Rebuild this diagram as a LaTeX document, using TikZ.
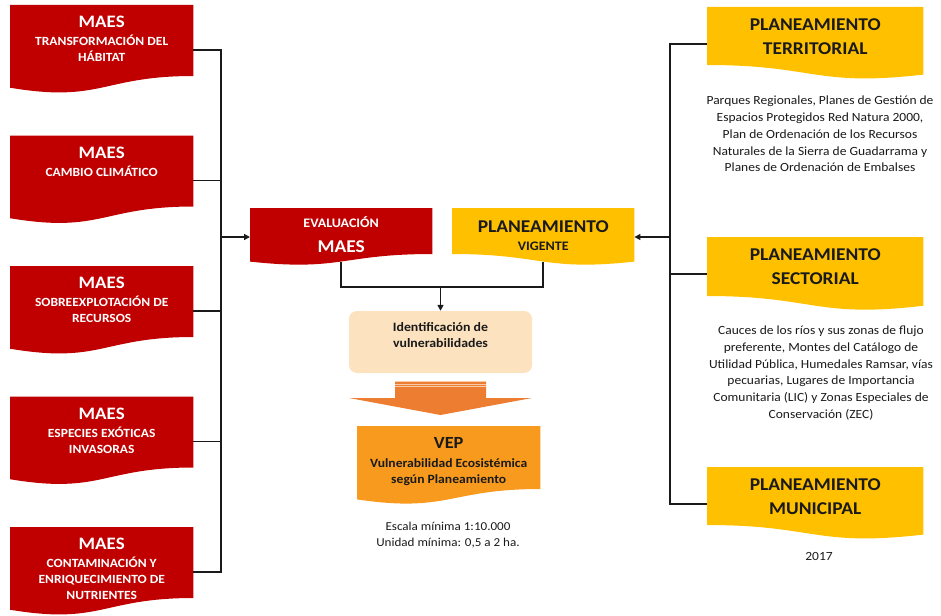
\documentclass[tikz,border=0pt]{standalone}
\usepackage{fontspec}
\setmainfont{Carlito}[FakeStretch=1.08]
\usepackage{xcolor}
\definecolor{cRed}{HTML}{C00000}
\definecolor{cYellow}{HTML}{FFC000}
\definecolor{cOrange}{HTML}{F79A1E}
\definecolor{cArrow}{HTML}{ED7D31}
\definecolor{cPeach}{HTML}{FCE2BE}
\definecolor{cStripe}{HTML}{F8CBAD}
\definecolor{cInk}{HTML}{1A1A1A}
\usepackage{tikz}
\usetikzlibrary{positioning,arrows.meta,calc,backgrounds}
% document shape: #1 node, #2 colour, #3 height of the straight part
\newcommand{\docfill}[3]{%
  \fill[#2] (#1.north west) -- (#1.north east) -- ([yshift=-#3]#1.north east)
    .. controls ([yshift=-#3]#1.north) and ([yshift={-1.381*#3}]#1.north)
    .. ([yshift={-1.165*#3}]#1.north west) -- cycle;}
% same shape, mirrored
\newcommand{\docfillr}[3]{%
  \fill[#2] (#1.north west) -- (#1.north east) -- ([yshift={-1.165*#3}]#1.north east)
    .. controls ([yshift={-1.381*#3}]#1.north) and ([yshift=-#3]#1.north)
    .. ([yshift=-#3]#1.north west) -- cycle;}
\newcommand{\maestitle}{{\fontsize{17.5}{18}\selectfont MAES}\\[2pt]}
\tikzset{
  box-maes/.style={anchor=north west,text width=183pt,inner xsep=0pt,
    inner ysep=11pt,align=flush center,text=white,
    font=\bfseries\fontsize{12.5}{16}\selectfont},
  box-plan/.style={anchor=north west,text width=216pt,inner xsep=0pt,
    inner ysep=11pt,align=flush center,text=cInk,
    font=\bfseries\fontsize{18}{24}\selectfont},
  box-mid/.style={anchor=north west,text width=182pt,inner xsep=0pt,
    inner ysep=8pt,align=flush center,font=\bfseries\fontsize{13}{14}\selectfont},
  box-ident/.style={fill=cPeach,rounded corners=8pt,minimum width=183pt,
    minimum height=62pt},
  label-ident/.style={yshift=7pt,align=flush center,text=cInk,
    font=\bfseries\fontsize{12.8}{16}\selectfont},
  note/.style={align=flush center,text=cInk,font=\fontsize{12.5}{16.8}\selectfont},
  link/.style={line width=1.6pt,draw=cInk},
  arrow/.style={link,-{Triangle[length=6pt,width=6pt]}},
}
\begin{document}
\begin{tikzpicture}[x=1pt,y=-1pt]
  \useasboundingbox (0,0) rectangle (941,615);
  % left column
  \foreach \txt [count=\i] in {{TRANSFORMACIÓN DEL\\HÁBITAT},{CAMBIO CLIMÁTICO},
      {SOBREEXPLOTACIÓN DE\\RECURSOS},{ESPECIES EXÓTICAS\\INVASORAS},
      {CONTAMINACIÓN Y\\ENRIQUECIMIENTO DE\\NUTRIENTES}}
    \node[box-maes] (m\i) at (10,{5+130.5*(\i-1)}) {\maestitle\txt};
  % centre
  \node[box-mid,text=white] (eval) at (250,208)
    {EVALUACIÓN\\[11pt]{\fontsize{18}{19}\selectfont MAES}};
  \node[box-mid,text=cInk,inner ysep=12pt] (vig) at (452,208)
    {{\fontsize{18}{19}\selectfont PLANEAMIENTO}\\[4pt]VIGENTE};
  \node[box-ident,label={[label-ident]center:{Identificación de\\vulnerabilidades}}]
    (ident) at (440.5,342) {};
  \node[box-maes,text=cInk,inner ysep=11pt,font=\bfseries\fontsize{12.6}{16}\selectfont]
    (vep) at (357,426)
    {{\fontsize{17}{17}\selectfont VEP}\\[3pt]Vulnerabilidad Ecosistémica\\según Planeamiento};
  \node[note,font=\fontsize{12.1}{16}\selectfont] (scale) at (448,535)
    {Escala mínima 1:10.000\\Unidad mínima: 0,5 a 2 ha.};
  % right column
  \node[box-plan] (p1) at (707,7) {PLANEAMIENTO\\TERRITORIAL};
  \node[box-plan] (p2) at (707,237) {PLANEAMIENTO\\SECTORIAL};
  \node[box-plan] (p3) at (707,467) {PLANEAMIENTO\\MUNICIPAL};
  \node[note] (d1) at (820,134) {Parques Regionales, Planes de Gestión de\\
    Espacios Protegidos Red Natura 2000,\\Plan de Ordenación de los Recursos\\
    Naturales de la Sierra de Guadarrama y\\Planes de Ordenación de Embalses};
  \node[note] (d2) at (821,373) {Cauces de los ríos y sus zonas de flujo\\
    preferente, Montes del Catálogo de\\Utilidad Pública, Humedales Ramsar, vías\\
    pecuarias, Lugares de Importancia\\Comunitaria (LIC) y Zonas Especiales de\\
    Conservación (ZEC)};
  \node[note] (year) at (819,556) {2017};
  % shapes behind the texts
  \begin{scope}[on background layer]
    \foreach \i in {1,...,5} {\docfill{m\i}{cRed}{71}}
    \docfill{eval}{cRed}{46}
    \docfillr{vig}{cYellow}{46}
    \docfill{vep}{cOrange}{63}
    \docfillr{p1}{cYellow}{58}
    \docfillr{p2}{cYellow}{59}
    \docfillr{p3}{cYellow}{58}
  \end{scope}
  % big arrow
  \fill[cArrow] (395,381) -- (486,381) -- (486,398) -- (532,398) -- (440.5,415)
    -- (349,398) -- (395,398) -- cycle;
  \foreach \y in {381.5,384,386.5}
    \draw[cStripe,line width=0.9pt] (395,\y) -- (486,\y);
  % connectors
  \coordinate (busL) at (221,237);
  \coordinate (busR) at (670,237);
  \coordinate (join) at (440.5,287);
  \foreach \i in {1,...,5}
    \draw[link] ([yshift=-45pt]m\i.north east) -| (busL);
  \foreach \i in {1,2,3}
    \draw[link] ([yshift=-37pt]p\i.north west) -| (busR);
  \draw[arrow] (busL) -- (busL -| eval.west);
  \draw[arrow] (busR) -- (busR -| vig.east);
  \draw[link] ([yshift=-54pt]eval.north) |- (join) -| ([yshift=-54pt]vig.north);
  \draw[arrow] (join) -- (ident);
\end{tikzpicture}
\end{document}
